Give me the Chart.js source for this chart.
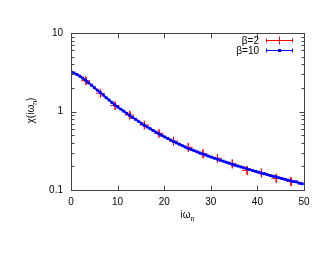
<!DOCTYPE html>
<html>
<head>
<meta charset="utf-8">
<script src="https://cdn.jsdelivr.net/npm/chart.js@4/dist/chart.umd.min.js"></script>
<style>
  html, body { margin: 0; padding: 0; background: #fff; }
  #wrap { width: 332px; height: 257px; }
</style>
</head>
<body>
<div id="wrap"><canvas id="chi"></canvas></div>
<script>
// Matsubara frequencies and chi values
const beta2Omega = [3.14, 6.28, 9.42, 12.57, 15.71, 18.85, 21.99, 25.13, 28.27, 31.42, 34.56, 37.70, 40.84, 43.98, 47.12];
const beta2Chi   = [2.47, 1.71, 1.19, 0.90, 0.673, 0.527, 0.42, 0.35, 0.29, 0.253, 0.216, 0.178, 0.165, 0.141, 0.129];
const beta2Err   = [0.28, 0.20, 0.14, 0.10, 0.08, 0.06, 0.05, 0.045, 0.038, 0.033, 0.028, 0.024, 0.022, 0.019, 0.017];

const beta10Omega = [
  0.00, 0.63, 1.26, 1.88, 2.51, 3.14, 3.77, 4.40, 5.03, 5.65,
  6.28, 6.91, 7.54, 8.17, 8.80, 9.42, 10.05, 10.68, 11.31, 11.94,
  12.57, 13.19, 13.82, 14.45, 15.08, 15.71, 16.34, 16.96, 17.59, 18.22,
  18.85, 19.48, 20.11, 20.73, 21.36, 21.99, 22.62, 23.25, 23.88, 24.50,
  25.13, 25.76, 26.39, 27.02, 27.65, 28.27, 28.90, 29.53, 30.16, 30.79,
  31.42, 32.04, 32.67, 33.30, 33.93, 34.56, 35.19, 35.81, 36.44, 37.07,
  37.70, 38.33, 38.96, 39.58, 40.21, 40.84, 41.47, 42.10, 42.73, 43.35,
  43.98, 44.61, 45.24, 45.87, 46.50, 47.12, 47.75, 48.38, 49.01, 49.64
];
const beta10Chi = [
  3.21, 3.10, 2.97, 2.82, 2.66, 2.50, 2.32, 2.16, 2.01, 1.87,
  1.74, 1.62, 1.50, 1.40, 1.30, 1.21, 1.14, 1.07, 1.01, 0.948,
  0.893, 0.843, 0.796, 0.752, 0.708, 0.668, 0.635, 0.604, 0.574, 0.546,
  0.519, 0.497, 0.474, 0.454, 0.434, 0.415, 0.398, 0.383, 0.367, 0.353,
  0.339, 0.328, 0.317, 0.307, 0.296, 0.287, 0.279, 0.270, 0.262, 0.254,
  0.247, 0.239, 0.233, 0.226, 0.220, 0.213, 0.207, 0.202, 0.197, 0.192,
  0.187, 0.182, 0.177, 0.173, 0.169, 0.164, 0.161, 0.157, 0.153, 0.150,
  0.147, 0.143, 0.140, 0.137, 0.134, 0.131, 0.128, 0.127, 0.122, 0.120
];

const xTicks = [0, 10, 20, 30, 40, 50];
const yTicks = [0.1, 1, 10];
const seriesLabels = ['β=2', 'β=10'];

const FONT = '"Liberation Sans", Arial, sans-serif';
const FRAME = '#444';

function pts(xs, ys) {
  return xs.map((x, i) => ({ x: x, y: ys[i] }));
}

// frame, inward tics, error bars, titles and key drawn gnuplot style
const gnuplotLook = {
  id: 'gnuplotLook',
  beforeDatasetsDraw(chart) {
    const ctx = chart.ctx;
    const xs = chart.scales.x, ys = chart.scales.y;
    // red error bars, under the points
    ctx.save();
    ctx.strokeStyle = 'rgba(255, 0, 0, 0.85)';
    ctx.lineWidth = 1;
    beta2Omega.forEach((w, i) => {
      const px = Math.round(xs.getPixelForValue(w)) + 0.5;
      const top = ys.getPixelForValue(beta2Chi[i] + beta2Err[i]);
      const bot = ys.getPixelForValue(beta2Chi[i] - beta2Err[i]);
      ctx.beginPath();
      ctx.moveTo(px, top); ctx.lineTo(px, bot);
      ctx.stroke();
    });
    ctx.restore();
  },
  afterDraw(chart) {
    const ctx = chart.ctx;
    const a = chart.chartArea;
    const xs = chart.scales.x, ys = chart.scales.y;
    const L = Math.round(a.left) + 0.5, R = Math.round(a.right) + 0.5;
    const T = Math.round(a.top) + 0.5, B = Math.round(a.bottom) + 0.5;

    ctx.save();
    ctx.strokeStyle = FRAME;
    ctx.lineWidth = 1;
    ctx.strokeRect(L, T, R - L, B - T);

    ctx.beginPath();
    xTicks.forEach(v => {
      const p = Math.round(xs.getPixelForValue(v)) + 0.5;
      ctx.moveTo(p, B); ctx.lineTo(p, B - 5);
      ctx.moveTo(p, T); ctx.lineTo(p, T + 5);
    });
    for (let d = 0.1; d < 10; d *= 10) {
      for (let m = 1; m <= 9; m++) {
        const p = Math.round(ys.getPixelForValue(d * m)) + 0.5;
        const len = m === 1 ? 5 : 3;
        ctx.moveTo(L, p); ctx.lineTo(L + len, p);
        ctx.moveTo(R, p); ctx.lineTo(R - len, p);
      }
    }
    ctx.stroke();

    // axis titles with subscripts
    ctx.fillStyle = '#000';
    ctx.textBaseline = 'alphabetic';
    const xt = 'iω', sub = 'n';
    ctx.font = '10px ' + FONT;
    const w1 = ctx.measureText(xt).width;
    ctx.font = '7px ' + FONT;
    const w2 = ctx.measureText(sub).width;
    let cx = (a.left + a.right) / 2 - (w1 + w2) / 2;
    ctx.font = '10px ' + FONT;
    ctx.fillText(xt, cx, 218);
    ctx.font = '7px ' + FONT;
    ctx.fillText(sub, cx + w1, 221);

    ctx.save();
    ctx.translate(34, (a.top + a.bottom) / 2 - 1);
    ctx.rotate(-Math.PI / 2);
    const yt1 = 'χ(iω', yt2 = ')';
    ctx.font = '10px ' + FONT;
    const v1 = ctx.measureText(yt1).width, v3 = ctx.measureText(yt2).width;
    ctx.font = '7px ' + FONT;
    const v2 = ctx.measureText(sub).width;
    let sx = -(v1 + v2 + v3) / 2;
    ctx.font = '10px ' + FONT;
    ctx.fillText(yt1, sx, 0);
    ctx.font = '7px ' + FONT;
    ctx.fillText(sub, sx + v1, 3);
    ctx.font = '10px ' + FONT;
    ctx.fillText(yt2, sx + v1 + v2, 0);
    ctx.restore();

    // key
    const rows = [
      { label: seriesLabels[0], color: '#ff0000', mark: 'cross', y: 40.5 },
      { label: seriesLabels[1], color: '#0000ff', mark: 'rect', y: 50.5 }
    ];
    ctx.font = '10px ' + FONT;
    ctx.textAlign = 'right';
    ctx.textBaseline = 'middle';
    rows.forEach(r => {
      ctx.fillStyle = '#000';
      ctx.fillText(r.label, 259, r.y + 0.5);
      ctx.strokeStyle = r.color;
      ctx.lineWidth = 1;
      ctx.beginPath();
      ctx.moveTo(266, r.y); ctx.lineTo(293, r.y);
      ctx.moveTo(266.5, r.y - 2); ctx.lineTo(266.5, r.y + 2);
      ctx.moveTo(292.5, r.y - 2); ctx.lineTo(292.5, r.y + 2);
      if (r.mark === 'cross') {
        ctx.moveTo(279.5, r.y - 4); ctx.lineTo(279.5, r.y + 4);
        ctx.moveTo(275.5, r.y); ctx.lineTo(283.5, r.y);
      }
      ctx.stroke();
      if (r.mark === 'rect') {
        ctx.fillStyle = r.color;
        ctx.fillRect(278, r.y - 1.5, 3, 3);
      }
    });
    ctx.restore();
  }
};

new Chart(document.getElementById('chi'), {
  type: 'scatter',
  data: {
    datasets: [
      {
        label: seriesLabels[0],
        data: pts(beta2Omega, beta2Chi),
        order: 1,
        showLine: false,
        pointStyle: 'cross',
        pointRadius: 4.5,
        pointBorderWidth: 1,
        borderColor: '#ff0000',
        backgroundColor: '#ff0000'
      },
      {
        label: seriesLabels[1],
        data: pts(beta10Omega, beta10Chi),
        order: 0,
        showLine: true,
        borderWidth: 2,
        pointStyle: 'rect',
        pointRadius: 2,
        pointBorderWidth: 0,
        borderColor: '#0000ff',
        backgroundColor: '#0000ff'
      }
    ]
  },
  options: {
    responsive: true,
    maintainAspectRatio: false,
    animation: false,
    layout: { padding: { left: 0, top: 33, right: 28, bottom: 0 } },
    plugins: {
      legend: { display: false },
      tooltip: { enabled: false }
    },
    scales: {
      x: {
        type: 'linear',
        min: 0,
        max: 50,
        grid: { display: false, drawTicks: false },
        border: { display: false },
        afterBuildTicks: s => { s.ticks = xTicks.map(v => ({ value: v })); },
        afterFit: s => { s.height = 67; },
        ticks: { padding: 6, color: '#000', font: { family: FONT, size: 10 } }
      },
      y: {
        type: 'logarithmic',
        min: 0.1,
        max: 10,
        grid: { display: false, drawTicks: false },
        border: { display: false },
        afterBuildTicks: s => { s.ticks = yTicks.map(v => ({ value: v })); },
        afterFit: s => { s.width = 71; },
        ticks: {
          padding: 8,
          color: '#000',
          font: { family: FONT, size: 10 },
          callback: v => String(v)
        }
      }
    }
  },
  plugins: [gnuplotLook]
});
</script>
</body>
</html>
